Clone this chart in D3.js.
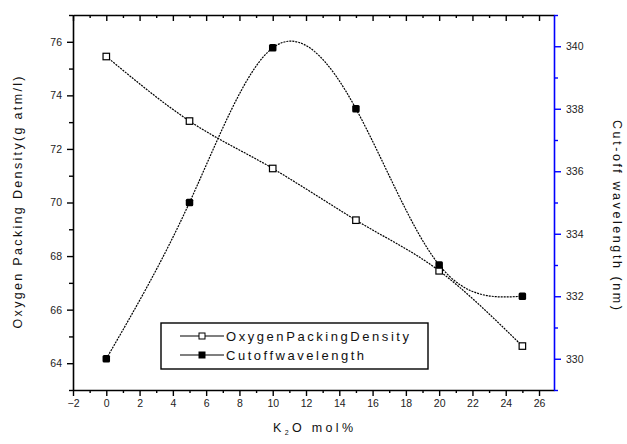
<!DOCTYPE html>
<html>
<head>
<meta charset="utf-8">
<script src="https://cdn.jsdelivr.net/npm/d3@7"></script>
<style>
  body { margin: 0; background: #fff; }
  svg { display: block; font-family: "Liberation Sans", Arial, sans-serif; }
</style>
</head>
<body>
<svg id="chart" width="627" height="444"></svg>
<script>
// K2O content (mol%)
const k2o = [0, 5, 10, 15, 20, 25];
// left axis series
const oxygenDensity = [75.45, 73.04, 71.27, 69.34, 67.45, 64.64];
// right axis series
const cutoffWavelength = [330, 335, 339.95, 338, 333, 332];

const xTicks = [-2, 0, 2, 4, 6, 8, 10, 12, 14, 16, 18, 20, 22, 24, 26];
const leftTicks = [64, 66, 68, 70, 72, 74, 76];
const rightTicks = [330, 332, 334, 336, 338, 340];

const svg = d3.select('#chart');
const plot = { left: 73, right: 554, top: 15, bottom: 390 };

const x = d3.scaleLinear().domain([-2, 26.9]).range([plot.left, plot.right]);
const yL = d3.scaleLinear().domain([63, 77]).range([plot.bottom, plot.top]);
const yR = d3.scaleLinear().domain([329, 341]).range([plot.bottom, plot.top]);

// --- axes ---
const minorX = d3.range(-2, 27, 1);
function styleAxis(g, color) {
  g.select('.domain').attr('stroke', color).attr('stroke-width', 1.6);
  g.selectAll('.tick line').attr('stroke', color).attr('stroke-width', 1.4);
  g.selectAll('.tick text')
    .attr('fill', '#222')
    .attr('font-size', 10.5);
}

// bottom
const gB = svg.append('g').attr('transform', `translate(0,${plot.bottom})`)
  .call(d3.axisBottom(x).tickValues(xTicks).tickSize(6).tickSizeOuter(0).tickPadding(4));
styleAxis(gB, '#000');
svg.append('g').attr('transform', `translate(0,${plot.bottom})`)
  .call(d3.axisBottom(x).tickValues(minorX.filter(v => v % 2 !== 0)).tickSize(3).tickFormat('').tickSizeOuter(0))
  .call(g => { g.select('.domain').remove(); g.selectAll('line').attr('stroke', '#000').attr('stroke-width', 1.4); });

// top (inward ticks, no labels)
const gT = svg.append('g').attr('transform', `translate(0,${plot.top})`)
  .call(d3.axisBottom(x).tickValues(xTicks).tickSize(6).tickFormat('').tickSizeOuter(0));
styleAxis(gT, '#000');
svg.append('g').attr('transform', `translate(0,${plot.top})`)
  .call(d3.axisBottom(x).tickValues(minorX.filter(v => v % 2 !== 0)).tickSize(3).tickFormat('').tickSizeOuter(0))
  .call(g => { g.select('.domain').remove(); g.selectAll('line').attr('stroke', '#000').attr('stroke-width', 1.4); });

// left
const gL = svg.append('g').attr('transform', `translate(${plot.left},0)`)
  .call(d3.axisLeft(yL).tickValues(leftTicks).tickSize(6).tickSizeOuter(0).tickPadding(5));
styleAxis(gL, '#000');
svg.append('g').attr('transform', `translate(${plot.left},0)`)
  .call(d3.axisLeft(yL).tickValues(d3.range(63, 78, 2)).tickSize(4).tickFormat('').tickSizeOuter(0))
  .call(g => { g.select('.domain').remove(); g.selectAll('line').attr('stroke', '#000').attr('stroke-width', 1.4); });

// right (blue)
const gR = svg.append('g').attr('transform', `translate(${plot.right},0)`)
  .call(d3.axisRight(yR).tickValues(rightTicks).tickSize(7).tickSizeOuter(0).tickPadding(5));
styleAxis(gR, '#0000ff');
svg.append('g').attr('transform', `translate(${plot.right},0)`)
  .call(d3.axisRight(yR).tickValues(d3.range(329, 342, 2)).tickSize(4).tickFormat('').tickSizeOuter(0))
  .call(g => { g.select('.domain').remove(); g.selectAll('line').attr('stroke', '#0000ff').attr('stroke-width', 1.4); });

// --- axis titles ---
svg.append('text')
  .attr('transform', `translate(22,${(plot.top + plot.bottom) / 2}) rotate(-90)`)
  .attr('text-anchor', 'middle')
  .attr('font-size', 12.5)
  .attr('fill', '#111')
  .attr('textLength', 252).attr('lengthAdjust', 'spacing')
  .text('Oxygen Packing Density(g atm/l)');

svg.append('text')
  .attr('transform', `translate(613,215) rotate(90)`)
  .attr('text-anchor', 'middle')
  .attr('font-size', 12.5)
  .attr('fill', '#111')
  .attr('textLength', 190).attr('lengthAdjust', 'spacing')
  .text('Cut-off wavelength  (nm)');

const xt = svg.append('text')
  .attr('x', 313).attr('y', 432)
  .attr('text-anchor', 'middle')
  .attr('font-size', 12.5)
  .attr('fill', '#111')
  .attr('textLength', 80).attr('lengthAdjust', 'spacing');
xt.append('tspan').text('K');
xt.append('tspan').attr('font-size', 7).attr('dy', 3).text('2');
xt.append('tspan').attr('dy', -3).text('O mol%');

// --- series ---
const ptsO = k2o.map((k, i) => [x(k), yL(oxygenDensity[i])]);
const ptsC = k2o.map((k, i) => [x(k), yR(cutoffWavelength[i])]);

svg.append('path')
  .attr('d', d3.line().curve(d3.curveMonotoneX)(ptsO))
  .attr('fill', 'none').attr('stroke', '#000').attr('stroke-width', 1.2)
  .attr('stroke-dasharray', '2,1');

svg.append('path')
  .attr('d', d3.line().curve(d3.curveNatural)(ptsC))
  .attr('fill', 'none').attr('stroke', '#000').attr('stroke-width', 1.2)
  .attr('stroke-dasharray', '2,1');

svg.selectAll('.mo').data(ptsO).join('rect')
  .attr('x', d => d[0] - 3.25).attr('y', d => d[1] - 3.25)
  .attr('width', 6.5).attr('height', 6.5)
  .attr('fill', '#fff').attr('stroke', '#000').attr('stroke-width', 1.2);

svg.selectAll('.mc').data(ptsC).join('rect')
  .attr('x', d => d[0] - 3.75).attr('y', d => d[1] - 3.75)
  .attr('width', 7.5).attr('height', 7.5).attr('rx', 1.5)
  .attr('fill', '#000');

// --- legend ---
const lg = svg.append('g');
lg.append('rect')
  .attr('x', 161).attr('y', 323).attr('width', 267).attr('height', 46)
  .attr('fill', '#fff').attr('stroke', '#000').attr('stroke-width', 1.4);

const legendItems = [
  { name: 'OxygenPackingDensity', filled: false, len: 183 },
  { name: 'Cutoffwavelength', filled: true, len: 138 }
];
legendItems.forEach((d, i) => {
  const cy = 336 + i * 19;
  lg.append('line').attr('x1', 180).attr('x2', 224).attr('y1', cy).attr('y2', cy)
    .attr('stroke', '#000').attr('stroke-width', 1.2);
  lg.append('rect')
    .attr('x', 202 - 3).attr('y', cy - 3).attr('width', 6).attr('height', 6)
    .attr('fill', d.filled ? '#000' : '#fff').attr('stroke', '#000').attr('stroke-width', 1);
  lg.append('text')
    .attr('x', 226).attr('y', cy + 4.5)
    .attr('font-size', 13).attr('fill', '#111')
    .attr('textLength', d.len).attr('lengthAdjust', 'spacing')
    .text(d.name);
});
</script>
</body>
</html>
